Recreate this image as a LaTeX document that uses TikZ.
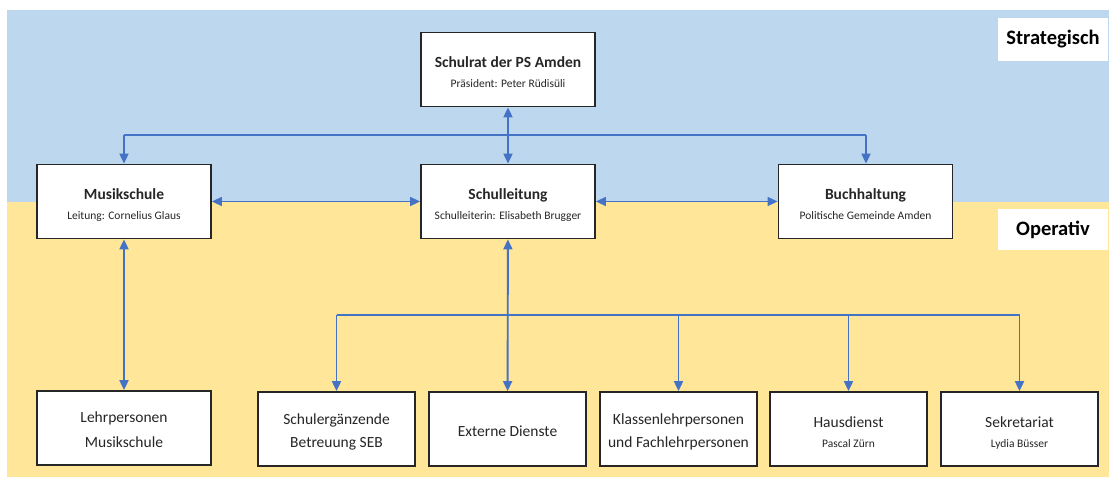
\documentclass[tikz,border=0pt]{standalone}
\usepackage{fontspec}
\setmainfont{Carlito}
\usetikzlibrary{arrows.meta}
\definecolor{bgblue}{HTML}{BDD7EE}
\definecolor{bgyellow}{HTML}{FFE699}
\definecolor{arrowblue}{HTML}{4472C4}
\definecolor{boxline}{HTML}{262626}
\definecolor{txt}{HTML}{262626}
\newcommand{\hs}[1]{\rule{0pt}{#1}}
\newcommand{\ds}{\rule[-3pt]{0pt}{3pt}}
\newcommand{\ttl}[1]{{\bfseries\hs{18pt}#1}}
\newcommand{\sbt}[1]{{\fontsize{11.5}{14}\selectfont #1\ds}}
\begin{document}
\begin{tikzpicture}[x=1pt,y=-1pt,
  >={Triangle[length=10pt,width=9pt]},
  box/.style={draw=boxline, line width=1.8pt, fill=white, minimum width=174pt,
    minimum height=74pt, inner sep=0pt, align=center, text=txt,
    font=\fontsize{15.5}{20}\selectfont},
  lowbox/.style={box, minimum width=157pt, font=\fontsize{15.5}{23}\selectfont},
  lehrbox/.style={box, font=\fontsize{15.5}{25}\selectfont},
  namebox/.style={lowbox, font=\fontsize{15.5}{20}\selectfont},
  lvl/.style={fill=white, minimum width=110pt, inner sep=0pt, text=black,
    font=\fontsize{20.5}{24}\selectfont\bfseries},
  conn/.style={draw=arrowblue, line width=1.9pt},
  hconn/.style={draw=arrowblue, line width=1.6pt}]
\useasboundingbox (0,0) rectangle (1109,479);
\fill[bgblue] (7,10) rectangle (1109,202);
\fill[bgyellow] (7,202) rectangle (1109,477);
% level labels
\node[lvl, minimum height=43pt] (strat) at (1053,39.5) {Strategisch};
\node[lvl, minimum height=41pt] (oper) at (1053,229.5) {Operativ};
% top boxes
\node[box] (rat) at (508,69.5) {\ttl{Schulrat der PS Amden}\\\sbt{Präsident: Peter Rüdisüli}};
\node[box] (musik) at (124,201.5) {\ttl{Musikschule}\\\sbt{Leitung: Cornelius Glaus}};
\node[box] (sl) at (508,201.5) {\ttl{Schulleitung}\\\sbt{Schulleiterin: Elisabeth Brugger}};
\node[box] (buch) at (865.5,201.5) {\ttl{Buchhaltung}\\\sbt{Politische Gemeinde Amden}};
% bottom boxes
\node[lehrbox] (lehr) at (124,428) {\hs{16pt}Lehrpersonen\\Musikschule\ds};
\node[lowbox] (seb) at (336.5,429) {\hs{16pt}Schulergänzende\\Betreuung SEB\ds};
\node[lowbox] (ext) at (507.5,429) {\hs{18pt}Externe Dienste\ds};
\node[lowbox] (klass) at (678.5,429) {\hs{16pt}Klassenlehrpersonen\\und Fachlehrpersonen\ds};
\node[namebox] (haus) at (848.5,429) {\hs{20pt}Hausdienst\\\sbt{Pascal Zürn}};
\node[namebox] (sekr) at (1019.5,429) {\hs{20pt}Sekretariat\\\sbt{Lydia Büsser}};
% connectors
\coordinate (tl) at (124,135);
\coordinate (tr) at (866,135);
\coordinate (bl) at (336.5,315);
\coordinate (br) at (1019.5,315);
\draw[conn,<->] (rat) -- (sl);
\draw[hconn] (tl) -- (tr);
\draw[conn,->] (tl) -- (musik);
\draw[conn,->] (tr) -- (buch.north -| tr);
\draw[hconn,<->] (musik) -- (sl);
\draw[hconn,<->] (sl) -- (buch);
\draw[conn,<->] (musik) -- (lehr);
\draw[conn,<->] (sl) -- (ext);
\draw[hconn] (bl) -- (br);
\draw[conn,->] (bl) -- (seb);
\draw[conn,->] (klass |- bl) -- (klass);
\draw[conn,->] (haus |- bl) -- (haus);
\draw[conn,->] (br) -- (sekr);
\end{tikzpicture}
\end{document}
